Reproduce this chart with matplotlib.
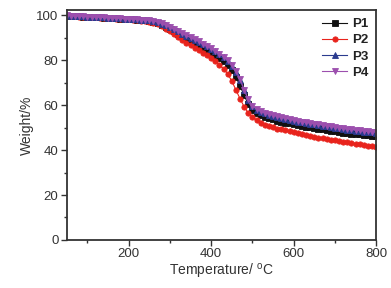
import numpy as np
import matplotlib.pyplot as plt

plt.rcParams['font.family'] = ['Liberation Sans', 'DejaVu Sans']

temp = np.arange(50, 801, 10)

p4 = [100.0, 99.9, 99.8, 99.7, 99.6, 99.5, 99.4, 99.3, 99.2, 99.1,
      99.0, 98.9, 98.8, 98.7, 98.6, 98.5, 98.4, 98.3, 98.2, 98.1,
      97.9, 97.6, 97.1, 96.5, 95.8, 95.0, 94.0, 93.0, 92.0, 91.1,
      90.2, 89.3, 88.5, 87.5, 86.5, 85.4, 84.2, 83.0, 81.7, 80.1,
      78.0, 75.3, 71.6, 67.0, 62.6, 59.8, 58.4, 57.4, 56.7, 56.1,
      55.6, 55.1, 54.6, 54.2, 53.8, 53.4, 53.0, 52.7, 52.4, 52.1,
      51.8, 51.5, 51.2, 50.9, 50.6, 50.3, 50.0, 49.7, 49.4, 49.2,
      49.0, 48.8, 48.6, 48.5, 48.3, 48.2]

p3 = [100.0, 99.9, 99.8, 99.7, 99.6, 99.5, 99.4, 99.3, 99.2, 99.1,
      99.0, 98.9, 98.8, 98.7, 98.6, 98.5, 98.4, 98.3, 98.2, 98.0,
      97.8, 97.5, 97.0, 96.4, 95.7, 94.9, 93.9, 92.9, 91.9, 91.0,
      90.1, 89.2, 88.3, 87.3, 86.3, 85.2, 84.0, 82.8, 81.4, 79.8,
      77.7, 75.0, 71.2, 66.6, 62.3, 59.5, 58.1, 57.1, 56.4, 55.8,
      55.3, 54.8, 54.3, 53.9, 53.5, 53.1, 52.7, 52.4, 52.1, 51.8,
      51.5, 51.2, 50.9, 50.6, 50.3, 50.0, 49.7, 49.4, 49.1, 48.9,
      48.7, 48.5, 48.3, 48.1, 47.9, 47.8]

p1 = [99.9, 99.8, 99.7, 99.6, 99.5, 99.4, 99.3, 99.2, 99.1, 99.0,
      98.9, 98.8, 98.7, 98.6, 98.5, 98.4, 98.3, 98.2, 98.0, 97.8,
      97.5, 97.1, 96.5, 95.8, 95.0, 94.0, 93.0, 91.9, 90.8, 89.8,
      88.8, 87.8, 86.8, 85.8, 84.7, 83.5, 82.3, 81.0, 79.5, 77.8,
      75.6, 72.6, 68.6, 64.4, 60.4, 57.8, 56.4, 55.5, 54.8, 54.2,
      53.7, 53.2, 52.7, 52.3, 51.9, 51.5, 51.1, 50.8, 50.5, 50.2,
      49.9, 49.6, 49.3, 49.0, 48.7, 48.4, 48.1, 47.8, 47.6, 47.4,
      47.2, 47.0, 46.8, 46.6, 46.5, 46.3]

p2 = [99.8, 99.7, 99.6, 99.5, 99.4, 99.3, 99.2, 99.1, 99.0, 98.9,
      98.8, 98.7, 98.6, 98.5, 98.4, 98.3, 98.1, 97.9, 97.7, 97.5,
      97.2, 96.7, 96.0, 95.2, 94.1, 92.9, 91.6, 90.3, 89.1, 87.9,
      86.8, 85.6, 84.5, 83.4, 82.2, 80.9, 79.6, 78.0, 76.2, 73.9,
      70.8, 66.8, 62.9, 59.3, 56.5, 54.6, 53.4, 52.3, 51.4, 50.7,
      50.1, 49.6, 49.2, 48.8, 48.4, 48.0, 47.6, 47.2, 46.8, 46.4,
      46.0, 45.6, 45.3, 45.0, 44.7, 44.4, 44.1, 43.8, 43.5, 43.2,
      42.9, 42.6, 42.3, 42.0, 41.7, 41.4]

labels = ['P1', 'P2', 'P3', 'P4']
colors = ['#111111', '#e8231c', '#2b3b8f', '#9c4fae']
markers = ['s', 'o', '^', 'v']

fig = plt.figure(figsize=(3.91, 2.88), dpi=100)
ax = fig.add_axes([0.171, 0.167, 0.791, 0.798])

for y, lab, c, m in zip([p1, p2, p3, p4], labels, colors, markers):
    ax.plot(temp, y, color=c, marker=m, markersize=3.8, linewidth=0.8,
            markeredgewidth=0.6, label=lab)

ax.set_xlim(50, 800)
ax.set_ylim(0, 102.4)
ax.set_xticks([200, 400, 600, 800])
ax.set_xticks([100, 300, 500, 700], minor=True)
ax.set_yticks([0, 20, 40, 60, 80, 100])
ax.set_yticks([10, 30, 50, 70, 90], minor=True)
ax.tick_params(which='both', direction='out', colors='#333333',
               labelsize=9.5, width=1.0, pad=2)
ax.tick_params(which='major', length=4)
ax.tick_params(which='minor', length=2.5)
for s in ax.spines.values():
    s.set_linewidth(1.3)
    s.set_color('#333333')

ax.set_xlabel('Temperature/ $^{\\mathregular{o}}$C', fontsize=10, color='#333333', labelpad=1)
ax.set_ylabel('Weight/%', fontsize=10, color='#333333', labelpad=2)

leg = ax.legend(loc='upper right', frameon=False, fontsize=9.5,
                handlelength=1.9, handletextpad=0.35, labelspacing=0.3,
                borderaxespad=0.2)
for t in leg.get_texts():
    t.set_fontweight('bold')
    t.set_color('#222222')

fig.savefig('out.png', dpi=100)
